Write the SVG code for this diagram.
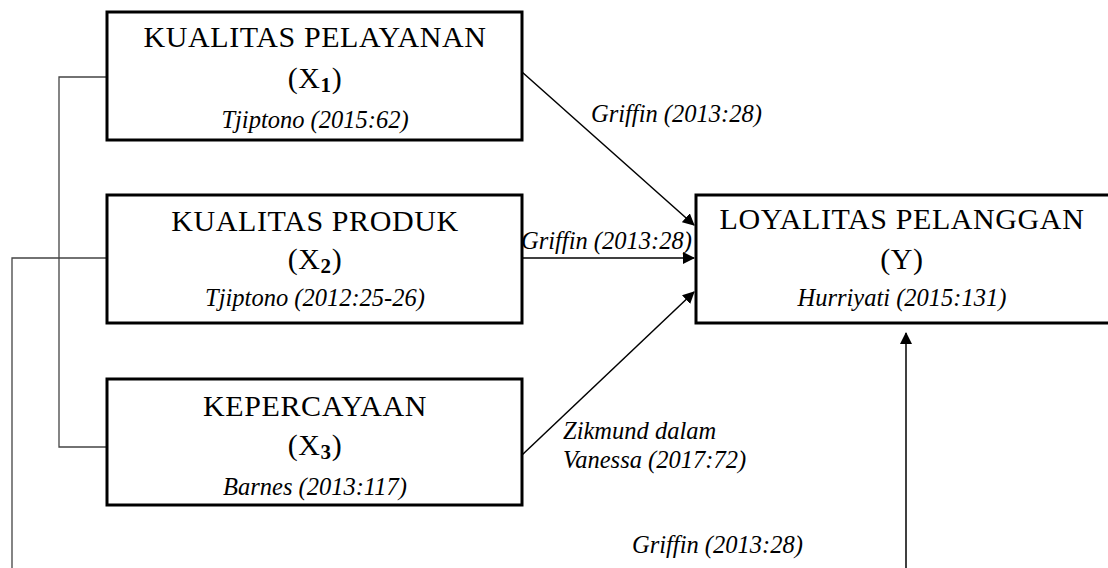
<svg xmlns="http://www.w3.org/2000/svg" width="1108" height="568" viewBox="0 0 1108 568">
<style>
.box{fill:#fff;stroke:#000;stroke-width:3}
.t{font-family:"Liberation Serif","Times New Roman",serif;font-size:30px;letter-spacing:0.6px;fill:#000;text-anchor:middle}
.s{font-family:"Liberation Serif","Times New Roman",serif;font-size:24.5px;fill:#000;text-anchor:middle;font-style:italic}
.l{font-family:"Liberation Serif","Times New Roman",serif;font-size:24.5px;fill:#000;font-style:italic}
.c{fill:none;stroke:#000;stroke-width:1.5}
.g{fill:none;stroke:#444;stroke-width:1.3}
</style>
<defs>
<marker id="ah" markerWidth="12" markerHeight="12" refX="11" refY="6" orient="auto" markerUnits="userSpaceOnUse" viewBox="0 0 12 12">
<path d="M0,0 L12,6 L0,12 z" fill="#000"/>
</marker>
</defs>
<g id="connectors">
<polyline class="g" points="107,77 59,77 59,447 107,447"/>
<polyline class="g" points="107,258 12,258 12,568"/>
<line class="c" x1="522" y1="72" x2="694" y2="225" marker-end="url(#ah)"/>
<line class="c" x1="522" y1="258" x2="694" y2="258" marker-end="url(#ah)"/>
<line class="c" x1="522" y1="455" x2="694" y2="292" marker-end="url(#ah)"/>
<line class="c" x1="906" y1="568" x2="906" y2="333" marker-end="url(#ah)"/>
<text class="l" x="591" y="122">Griffin (2013:28)</text>
<text class="l" x="521" y="249">Griffin (2013:28)</text>
<text class="l" x="563" y="439">Zikmund dalam</text>
<text class="l" x="563" y="468">Vanessa (2017:72)</text>
<text class="l" x="632" y="553">Griffin (2013:28)</text>
</g>
<g id="x1">
<rect class="box" x="107" y="12" width="415" height="128"/>
<text class="t" x="315" y="47">KUALITAS PELAYANAN</text>
<text class="t" x="315" y="88">(X<tspan font-size="21" dy="4" font-weight="bold">1</tspan><tspan dy="-4">)</tspan></text>
<text class="s" x="315" y="128">Tjiptono (2015:62)</text>
</g>
<g id="x2">
<rect class="box" x="107" y="195" width="415" height="128"/>
<text class="t" x="315" y="231">KUALITAS PRODUK</text>
<text class="t" x="315" y="269">(X<tspan font-size="21" dy="4" font-weight="bold">2</tspan><tspan dy="-4">)</tspan></text>
<text class="s" x="315" y="306">Tjiptono (2012:25-26)</text>
</g>
<g id="x3">
<rect class="box" x="107" y="379" width="415" height="126"/>
<text class="t" x="315" y="416">KEPERCAYAAN</text>
<text class="t" x="315" y="455">(X<tspan font-size="21" dy="4" font-weight="bold">3</tspan><tspan dy="-4">)</tspan></text>
<text class="s" x="315" y="495">Barnes (2013:117)</text>
</g>
<g id="y">
<rect class="box" x="696" y="195" width="420" height="128"/>
<text class="t" x="902" y="229">LOYALITAS PELANGGAN</text>
<text class="t" x="902" y="269">(Y)</text>
<text class="s" x="902" y="306">Hurriyati (2015:131)</text>
</g>
</svg>
